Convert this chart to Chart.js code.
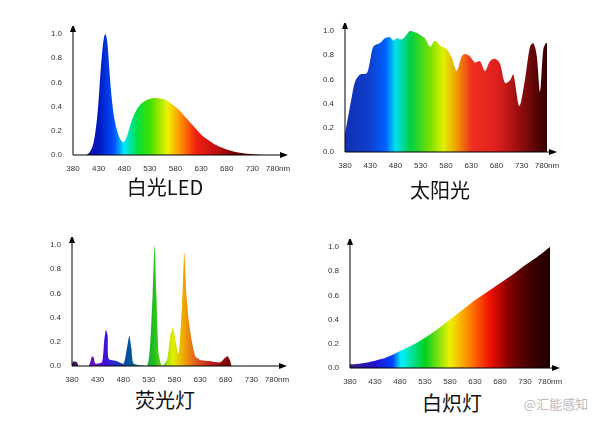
<!DOCTYPE html>
<html><head><meta charset="utf-8">
<script src="https://cdn.jsdelivr.net/npm/chart.js@4.4.0/dist/chart.umd.min.js"></script>
<style>
body{margin:0;width:607px;height:424px;background:#fff;position:relative;overflow:hidden;font-family:"Noto Sans CJK SC","Noto Sans",sans-serif}
canvas{position:absolute}
.t{position:absolute;font-size:20px;color:#111;transform:translateX(-50%);white-space:nowrap;line-height:1}
</style></head><body>
<canvas id="c1" style="left:51px;top:26px;width:257px;height:147px"></canvas>
<canvas id="c2" style="left:323px;top:23px;width:254px;height:147px"></canvas>
<canvas id="c3" style="left:50px;top:237px;width:257px;height:147px"></canvas>
<canvas id="c4" style="left:328px;top:239px;width:252px;height:147px"></canvas>
<div class="t" style="left:165px;top:177px">白光LED</div>
<div class="t" style="left:440px;top:180px">太阳光</div>
<div class="t" style="left:165px;top:390px">荧光灯</div>
<div class="t" style="left:452px;top:393px">白炽灯</div>
<div class="t" style="left:556px;top:397px;font-size:13px;color:#bbb">@汇能感知</div>
<script>
const xTicks=[380,430,480,530,580,630,680,730,780];
const yTicks=[0,0.2,0.4,0.6,0.8,1.0];
const titles=["白光LED","太阳光","荧光灯","白炽灯"];

const ledX=[380,405,412,420,428,434,439,443,447,451,456,462,470,476,480,485,492,500,510,522,535,546,558,570,585,600,615,630,645,660,680,700,720,744,760];
const ledY=[0,0,0.02,0.1,0.35,0.7,0.93,1.0,0.93,0.7,0.45,0.27,0.15,0.11,0.11,0.15,0.25,0.34,0.41,0.45,0.47,0.47,0.46,0.43,0.38,0.31,0.24,0.17,0.12,0.08,0.045,0.022,0.01,0.002,0];

const sunX=[380,386.6,393.2,399.8,409.7,422.9,429.5,436.1,449.3,459.2,469.1,475.7,482.3,492.2,502.1,508.7,518.6,528.5,538.4,548.3,558.2,568.1,581.3,591.2,601.1,611,617.6,627.5,637.4,647.3,657.2,667.1,677,686.9,696.8,706.7,713.3,725.2,736.4,746.3,752.9,759.5,766.1,772.7,778,780];
const sunY=[0.15,0.3,0.45,0.58,0.64,0.65,0.75,0.87,0.9,0.94,0.95,0.92,0.94,0.93,0.97,1.0,0.99,0.97,0.94,0.87,0.92,0.88,0.85,0.78,0.67,0.79,0.81,0.79,0.74,0.75,0.67,0.75,0.77,0.73,0.57,0.59,0.64,0.38,0.6,0.87,0.9,0.8,0.5,0.85,0.9,0.9];

const fluX=[380,383.3,389.8,393,412.5,419,422.3,425.5,438.5,443.1,446.3,449.6,451.5,467.8,480.8,487.3,491.9,495.8,500.3,526.3,532.8,537.4,541.3,544.6,549.1,555.6,565.4,571.9,577.1,582.3,588.1,594.6,599.2,603.1,607.6,614.1,620.6,630.4,649.9,669.4,679.2,683.7,688.9,692.2,780];
const fluY=[0.02,0.04,0.03,0,0,0.08,0.07,0.02,0.03,0.22,0.3,0.25,0.06,0.04,0.02,0.15,0.25,0.15,0.02,0,0.2,0.6,1.0,0.6,0.1,0,0.05,0.25,0.32,0.2,0.1,0.5,0.94,0.6,0.38,0.2,0.08,0.05,0.04,0.03,0.07,0.08,0.04,0,0];

const incX=[380,405,430,455,480,505,530,555,580,605,630,655,680,705,730,755,780];
const incY=[0.03,0.04,0.06,0.09,0.14,0.19,0.25,0.32,0.4,0.48,0.56,0.63,0.7,0.77,0.85,0.92,1.0];

const grads=[
 [[380,'#1a0a80'],[430,'#0018c0'],[460,'#0050ff'],[480,'#00e8ff'],[505,'#00e040'],[530,'#40e000'],[565,'#f0f000'],[590,'#ff9000'],[620,'#f02010'],[660,'#c01010'],[700,'#700000'],[780,'#300000']],
 [[380,'#1030b0'],[430,'#1040d0'],[460,'#0060ff'],[480,'#00e0f0'],[510,'#00d040'],[550,'#80e000'],[575,'#e0f000'],[600,'#f0a000'],[630,'#f03020'],[680,'#e02020'],[720,'#a01010'],[780,'#300000']],
 [[380,'#401050'],[420,'#6010c0'],[446,'#4010e0'],[491,'#0050a0'],[520,'#10a040'],[540,'#20c020'],[577,'#e0f000'],[600,'#f0a000'],[620,'#e06020'],[650,'#c02020'],[684,'#800000'],[780,'#400000']],
 [[380,'#402080'],[430,'#2010d0'],[465,'#0040ff'],[482,'#00f0ff'],[530,'#00d020'],[580,'#f0f000'],[620,'#ff8000'],[660,'#f01000'],[700,'#800000'],[740,'#400000'],[780,'#200000']]
];

const arrows={id:'arrows',afterDraw(ch){
 const a=ch.chartArea,c=ch.ctx;c.save();c.strokeStyle='#000';c.fillStyle='#000';c.lineWidth=1;
 c.beginPath();c.moveTo(a.left,a.bottom);c.lineTo(a.left,a.top-6);c.moveTo(a.left,a.bottom);c.lineTo(a.right+6,a.bottom);c.stroke();
 c.beginPath();c.moveTo(a.left,a.top-10);c.lineTo(a.left-3,a.top-2);c.lineTo(a.left+3,a.top-2);c.fill();
 c.beginPath();c.moveTo(a.right+10,a.bottom);c.lineTo(a.right+2,a.bottom-3);c.lineTo(a.right+2,a.bottom+3);c.fill();
 c.restore();}};

function make(id,xs,ys,g,tension){
 new Chart(document.getElementById(id),{type:'line',
  data:{datasets:[{data:xs.map((x,i)=>({x,y:ys[i]})),borderWidth:0,pointRadius:0,tension:tension,fill:'origin',
   backgroundColor(ctx){const ch=ctx.chart;if(!ch.chartArea)return '#888';const sx=ch.scales.x;
     const gr=ch.ctx.createLinearGradient(sx.getPixelForValue(380),0,sx.getPixelForValue(780),0);
     g.forEach(([w,col])=>gr.addColorStop((w-380)/400,col));return gr;}}]},
  options:{animation:false,responsive:false,devicePixelRatio:1,events:[],
   layout:{padding:{top:8,right:30,left:0,bottom:0}},
   plugins:{legend:{display:false},tooltip:{enabled:false}},
   scales:{
    x:{type:'linear',min:380,max:780,afterBuildTicks(s){s.ticks=xTicks.map(v=>({value:v}));},afterFit(s){s.height=18;},
      grid:{display:false},border:{display:false},
      ticks:{autoSkip:false,maxRotation:0,padding:1,color:'#333',font:{size:8,family:'Liberation Sans'},callback:v=>v===780?'780nm':String(v)}},
    y:{min:0,max:1,afterBuildTicks(s){s.ticks=yTicks.map(v=>({value:v}));},afterFit(s){s.width=22;},
      grid:{display:false},border:{display:false},
      ticks:{padding:3,color:'#333',font:{size:8,family:'Liberation Sans'},callback:v=>v.toFixed(1)}}}},
  plugins:[arrows]});
}
[...document.querySelectorAll('canvas')].forEach(c=>{c.width=parseInt(c.style.width);c.height=parseInt(c.style.height);});
make('c1',ledX,ledY,grads[0],0.35);
make('c2',sunX,sunY,grads[1],0.3);
make('c3',fluX,fluY,grads[2],0.2);
make('c4',incX,incY,grads[3],0.4);
</script></body></html>
